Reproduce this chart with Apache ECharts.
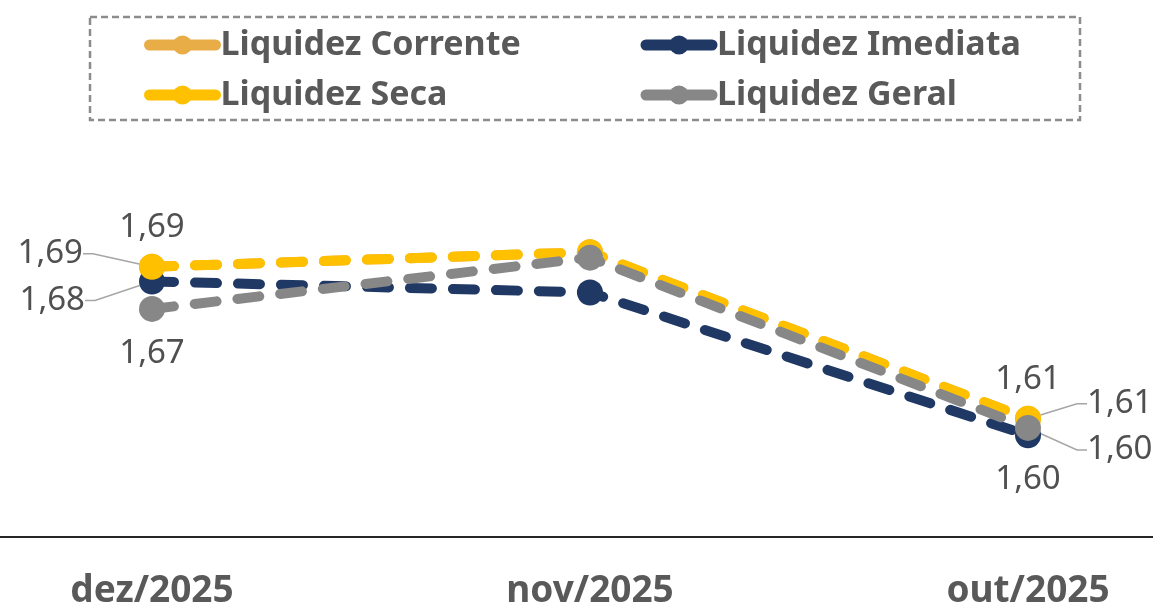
<!DOCTYPE html>
<html>
<head>
<meta charset="utf-8">
<script src="https://cdn.jsdelivr.net/npm/echarts@6/dist/echarts.min.js"></script>
<style>
html, body { margin: 0; padding: 0; background: #fff; }
#chart { width: 1153px; height: 610px; }
</style>
</head>
<body>
<div id="chart"></div>
<script>
var months = ['dez/2025', 'nov/2025', 'out/2025'];
var seriesNames = ['Liquidez Corrente', 'Liquidez Imediata', 'Liquidez Seca', 'Liquidez Geral'];
var corrente = [1.690, 1.698, 1.607];
var imediata = [1.682, 1.676, 1.598];
var seca = [1.690, 1.698, 1.607];
var geral = [1.667, 1.695, 1.602];
var colors = ['#E9AD47', '#203864', '#FFC000', '#878787'];

// where each value label sits (null = no label)
var labelPlaces = [
    ['top', null, 'top'],
    ['left', null, 'bottom'],
    ['left', null, 'right'],
    ['bottom', null, 'right']
];
// labels pulled away from the point, drawn with a leader line
var labelShift = [
    [null, null, null],
    [[-44, 19], null, null],
    [[-46, -13], null, [36, -15]],
    [null, null, [36, 22]]
];

var chart = echarts.init(document.getElementById('chart'));

var fmt = function (v) {
    return (Math.round(v * 100) / 100).toFixed(2).replace('.', ',');
};

var buildData = function (values, s) {
    var res = [];
    for (var i = 0; i < values.length; i++) {
        var place = labelPlaces[s][i];
        res.push({
            value: values[i],
            label: {
                show: place !== null,
                position: place || 'top',
                distance: place === 'bottom' ? 15 : 10
            },
            labelLine: { show: !!labelShift[s][i] }
        });
    }
    return res;
};

var allValues = [corrente, imediata, seca, geral];
var series = [];
for (var s = 0; s < seriesNames.length; s++) {
    series.push({
        name: seriesNames[s],
        type: 'line',
        data: buildData(allValues[s], s),
        symbol: 'circle',
        symbolSize: 26,
        color: colors[s],
        lineStyle: { width: 10, type: [22, 21], cap: 'round', color: colors[s] },
        itemStyle: { color: colors[s] },
        label: {
            formatter: function (p) { return fmt(p.value); },
            color: '#505050',
            fontSize: 33,
            fontFamily: 'Noto Sans'
        },
        labelLine: {
            lineStyle: { color: '#a6a6a6', width: 1.5 },
            length2: 10
        },
        labelLayout: function (p) {
            var d = labelShift[p.seriesIndex][p.dataIndex];
            return d ? { dx: d[0], dy: d[1] } : {};
        }
    });
}

var option = {
    animation: false,
    backgroundColor: '#fff',
    legend: {
        data: seriesNames,
        left: 144,
        top: 25,
        width: 1000,
        padding: 0,
        itemGap: 10,
        itemWidth: 66,
        itemHeight: 24,
        lineStyle: { type: 'solid', width: 11, cap: 'round' },
        textStyle: {
            color: '#595959',
            fontSize: 34,
            fontWeight: 'bold',
            fontFamily: 'Noto Sans',
            width: 410,
            lineHeight: 40
        }
    },
    graphic: [
        {
            type: 'rect',
            shape: { x: 90, y: 17, width: 990, height: 103 },
            style: { fill: null, stroke: '#8c8c8c', lineWidth: 2.5, lineDash: [7, 4] },
            silent: true
        },
        {
            type: 'line',
            shape: { x1: 0, y1: 537, x2: 1153, y2: 537 },
            style: { stroke: '#262626', lineWidth: 2 },
            silent: true
        }
    ],
    grid: { left: 152, right: 125, top: 150, bottom: 73 },
    xAxis: {
        type: 'category',
        data: months,
        boundaryGap: false,
        axisLine: { show: false },
        axisTick: { show: false },
        splitLine: { show: false },
        axisLabel: {
            color: '#595959',
            fontSize: 37,
            fontWeight: 'bold',
            fontFamily: 'Noto Sans',
            margin: 40
        }
    },
    yAxis: {
        type: 'value',
        min: 1.5446,
        max: 1.7538,
        show: false,
        splitLine: { show: false }
    },
    series: series
};

chart.setOption(option);
window.onresize = function () {
    chart.resize();
};
</script>
</body>
</html>
